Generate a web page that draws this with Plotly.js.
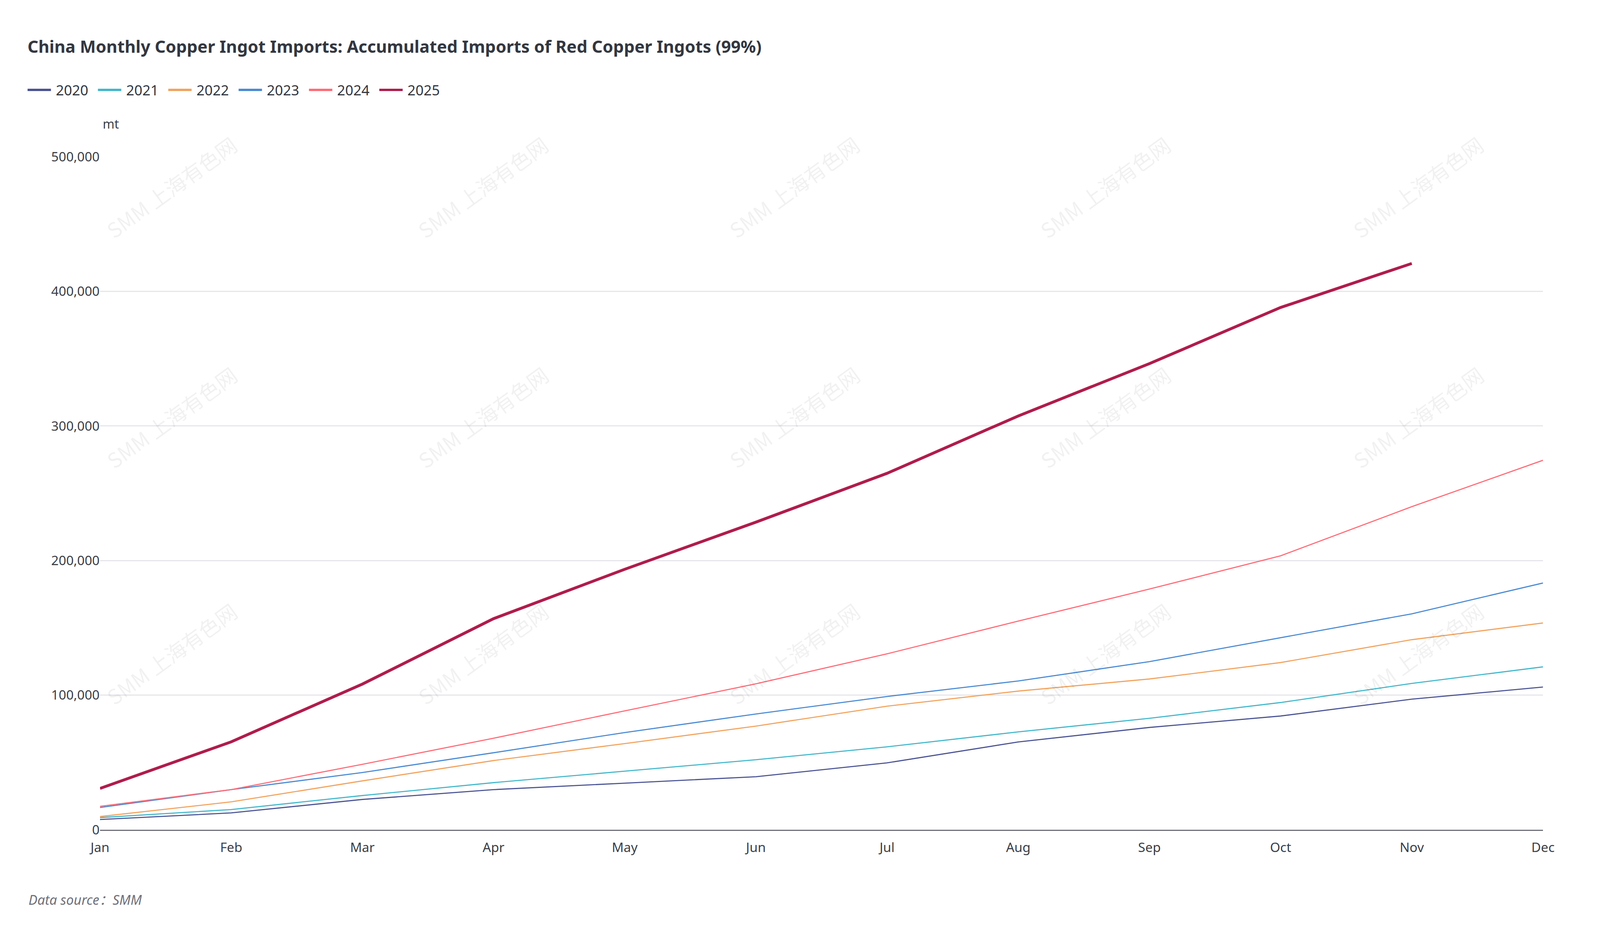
<!DOCTYPE html>
<html>
<head>
<meta charset="utf-8">
<script src="https://cdn.plot.ly/plotly-3.0.1.min.js"></script>
<style>
  html, body { margin: 0; padding: 0; background: #ffffff; overflow: hidden; }
  #chart { position: absolute; left: 0; top: 0; }
</style>
</head>
<body>
<div id="chart"></div>
<script>
// ---- data ----
const months = ["Jan", "Feb", "Mar", "Apr", "May", "Jun", "Jul", "Aug", "Sep", "Oct", "Nov", "Dec"];
const years = ["2020", "2021", "2022", "2023", "2024", "2025"];
const y2020 = [7600, 12500, 22500, 29800, 34600, 39400, 49700, 65200, 76000, 84500, 97000, 106000];
const y2021 = [9000, 15000, 25400, 35000, 43500, 52000, 61600, 72700, 82800, 94500, 108700, 121000];
const y2022 = [9800, 20700, 36300, 51400, 64000, 77000, 91800, 103000, 112000, 124200, 141200, 153600];
const y2023 = [16500, 29800, 42500, 57200, 72200, 86000, 99000, 110500, 124900, 142600, 160400, 183300];
const y2024 = [17400, 29800, 48600, 68000, 88300, 108400, 130700, 155000, 178800, 203500, 240000, 274500];
const y2025 = [30700, 65300, 108200, 156800, 193500, 228500, 264800, 307400, 346300, 388000, 420700];
const yTickVals = [0, 100000, 200000, 300000, 400000, 500000];

const seriesValues = [y2020, y2021, y2022, y2023, y2024, y2025];
const colors = ["#4a5394", "#42b7cb", "#f2a35e", "#4a8ad4", "#ff6b76", "#b01c4c"];

// ---- geometry: designed on the 6164 x 2400 reference, stretched to the viewport ----
const REF_W = 6164, REF_H = 2400;
const W = window.innerWidth || REF_W, H = window.innerHeight || REF_H;
const SX = W / REF_W, SY = H / REF_H;
const ML = 385, MR = 220, MT = 401, MB = 277;
const PW = REF_W - ML - MR, PH = REF_H - MT - MB;
const xp = px => (px - ML) / PW;
const yp = py => (REF_H - MB - py) / PH;
const FS = SX * 1.05;
const fs = v => v * FS;

const widths = [3.5, 3.5, 3.5, 3.5, 3.5, 9].map(v => v * Math.sqrt(SX * SY));

const traces = years.map((yr, i) => ({
  type: "scatter",
  mode: "lines",
  name: yr,
  x: months.slice(0, seriesValues[i].length),
  y: seriesValues[i],
  line: { color: colors[i], width: widths[i] },
  showlegend: false,
  hoverinfo: "x+y+name"
}));

const FONT = "Noto Sans, Open Sans, sans-serif";
const annotations = [];
const shapes = [];

// watermark
const wmX = [660, 1859, 3058, 4257, 5462];
const wmY = [478, 1066, 1671];
wmY.forEach(py => wmX.forEach(px => {
  annotations.push({
    xref: "paper", yref: "paper", x: xp(px), y: yp(py),
    text: "SMM 上海有色网", showarrow: false, textangle: -36,
    font: { family: "Noto Sans CJK SC, Noto Sans, sans-serif", size: fs(76), color: "rgba(0,0,0,0.055)" },
    xanchor: "center", yanchor: "middle"
  });
}));

// legend (line symbol + label for each year)
years.forEach((yr, i) => {
  const x0 = 106 + i * 271;
  shapes.push({
    type: "line", xref: "paper", yref: "paper",
    x0: xp(x0), x1: xp(x0 + 90), y0: yp(230), y1: yp(230),
    line: { color: colors[i], width: 6 * SY }
  });
  annotations.push({
    xref: "paper", yref: "paper", x: xp(x0 + 106), y: yp(230),
    xanchor: "left", yanchor: "middle", showarrow: false,
    text: yr, font: { family: FONT, size: fs(52), color: "#333740" }
  });
});

annotations.push({
  xref: "paper", yref: "paper", x: xp(393), y: yp(316),
  xanchor: "left", yanchor: "middle", showarrow: false,
  text: "mt", font: { family: FONT, size: fs(46), color: "#3b3e46" }
});
annotations.push({
  xref: "paper", yref: "paper", x: xp(106), y: yp(2300),
  xanchor: "left", yanchor: "middle", showarrow: false,
  text: "<i>Data source<span style=\"font-family:'Noto Sans CJK SC'\">：</span>SMM</i>",
  font: { family: FONT, size: fs(49), color: "#6e7079" }
});

const layout = {
  width: W, height: H,
  paper_bgcolor: "#ffffff", plot_bgcolor: "#ffffff",
  margin: { l: ML * SX, r: MR * SX, t: MT * SY, b: MB * SY, pad: 0 },
  font: { family: FONT, color: "#3b3e46" },
  title: {
    text: "<b>China Monthly Copper Ingot Imports: Accumulated Imports of Red Copper Ingots (99%)</b>",
    font: { family: FONT, size: fs(62), color: "#333740" },
    xref: "container", yref: "container",
    x: 106 / REF_W, xanchor: "left", y: 1 - 120 / REF_H, yanchor: "middle"
  },
  showlegend: false,
  xaxis: {
    type: "category", categoryorder: "array", categoryarray: months,
    range: [0, 11], showgrid: false, zeroline: false,
    showline: true, linecolor: "#6e7079", linewidth: 3 * SY,
    ticks: "", ticklabelstandoff: 14 * SY,
    tickfont: { family: FONT, size: fs(48), color: "#3b3e46" },
    fixedrange: true
  },
  yaxis: {
    range: [0, 500000], tickvals: yTickVals, tickformat: ",d",
    showgrid: true, gridcolor: "#e6e6ec", gridwidth: 3 * SY,
    zeroline: false, showline: false, ticks: "", ticklabelstandoff: 18 * SX,
    tickfont: { family: FONT, size: fs(48), color: "#3b3e46" },
    fixedrange: true
  },
  shapes: shapes,
  annotations: annotations
};

Plotly.newPlot("chart", traces, layout, { displayModeBar: false, staticPlot: true });
</script>
</body>
</html>
